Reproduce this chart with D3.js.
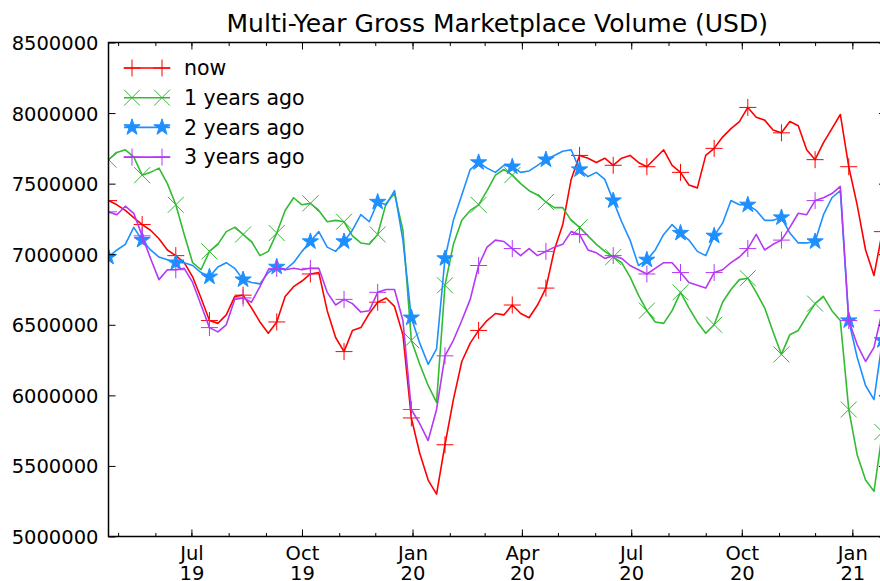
<!DOCTYPE html>
<html>
<head>
<meta charset="utf-8">
<script src="https://cdn.jsdelivr.net/npm/d3@7"></script>
<style>
  body { margin: 0; background: #fff; }
  svg { display: block; font-family: "DejaVu Sans", sans-serif; }
</style>
</head>
<body>
<script>
// weekly samples, first one on 2019-04-23
const startDate = new Date(2019, 3, 23);
const endDate = new Date(2021, 0, 29);
const stepDays = 7;
const markEvery = 4;

const nowVals = [
  7380000, 7350000, 7310000, 7260000, 7210000, 7170000, 7110000, 7030000, 6990000, 6940000,
  6840000, 6690000, 6530000, 6510000, 6570000, 6700000, 6710000, 6620000, 6520000, 6440000,
  6520000, 6700000, 6770000, 6810000, 6860000, 6870000, 6600000, 6410000, 6310000, 6460000,
  6480000, 6580000, 6660000, 6690000, 6630000, 6430000, 5840000, 5590000, 5400000, 5300000,
  5650000, 5970000, 6240000, 6370000, 6460000, 6530000, 6580000, 6570000, 6640000, 6580000,
  6550000, 6640000, 6760000, 7030000, 7210000, 7530000, 7700000, 7680000, 7650000, 7680000,
  7630000, 7680000, 7700000, 7650000, 7620000, 7680000, 7740000, 7630000, 7580000, 7490000,
  7470000, 7700000, 7750000, 7830000, 7890000, 7940000, 8040000, 7970000, 7950000, 7880000,
  7860000, 7940000, 7910000, 7740000, 7670000, 7790000, 7890000, 7990000, 7620000, 7350000,
  7030000, 6850000, 7160000
];
const oneYearVals = [
  7670000, 7720000, 7740000, 7690000, 7560000, 7580000, 7610000, 7500000, 7350000, 7140000,
  6940000, 6890000, 7020000, 7070000, 7160000, 7190000, 7140000, 7090000, 6990000, 7020000,
  7150000, 7310000, 7400000, 7350000, 7360000, 7310000, 7230000, 7240000, 7230000, 7130000,
  7080000, 7070000, 7140000, 7360000, 7430000, 7170000, 6390000, 6220000, 6070000, 5950000,
  6780000, 7070000, 7240000, 7310000, 7350000, 7450000, 7560000, 7600000, 7560000, 7500000,
  7450000, 7420000, 7370000, 7330000, 7330000, 7240000, 7190000, 7130000, 7070000, 7020000,
  6980000, 6940000, 6840000, 6710000, 6600000, 6520000, 6510000, 6600000, 6730000, 6620000,
  6520000, 6440000, 6500000, 6660000, 6750000, 6820000, 6830000, 6730000, 6620000, 6450000,
  6290000, 6430000, 6460000, 6560000, 6650000, 6700000, 6600000, 6530000, 5900000, 5580000,
  5400000, 5320000, 5740000
];
const twoYearVals = [
  6980000, 7030000, 7070000, 7190000, 7100000, 7030000, 6980000, 6960000, 6940000, 6940000,
  6920000, 6870000, 6840000, 6910000, 6940000, 6900000, 6820000, 6800000, 6790000, 6870000,
  6910000, 6890000, 6940000, 7020000, 7090000, 7160000, 7050000, 7020000, 7090000, 7170000,
  7280000, 7230000, 7370000, 7350000, 7450000, 7100000, 6550000, 6370000, 6220000, 6330000,
  6970000, 7240000, 7420000, 7600000, 7650000, 7610000, 7580000, 7630000, 7620000, 7580000,
  7590000, 7630000, 7670000, 7700000, 7730000, 7740000, 7600000, 7550000, 7580000, 7530000,
  7380000, 7230000, 7100000, 6920000, 6960000, 7030000, 7140000, 7210000, 7150000, 7100000,
  7020000, 6990000, 7130000, 7220000, 7380000, 7350000, 7350000, 7310000, 7240000, 7240000,
  7260000, 7150000, 7080000, 7080000, 7090000, 7280000, 7400000, 7450000, 6530000, 6270000,
  6070000, 5970000, 6390000
];
const threeYearVals = [
  7300000, 7280000, 7340000, 7290000, 7130000, 6970000, 6820000, 6890000, 6890000, 6900000,
  6800000, 6640000, 6480000, 6450000, 6500000, 6680000, 6690000, 6660000, 6770000, 6890000,
  6900000, 6890000, 6900000, 6890000, 6900000, 6900000, 6730000, 6640000, 6680000, 6650000,
  6590000, 6600000, 6730000, 6750000, 6750000, 6530000, 5900000, 5800000, 5680000, 5900000,
  6280000, 6390000, 6530000, 6680000, 6920000, 7050000, 7100000, 7090000, 7040000, 6990000,
  7040000, 6990000, 7020000, 7050000, 7070000, 7160000, 7140000, 7030000, 7010000, 6970000,
  6990000, 6970000, 6920000, 6890000, 6860000, 6900000, 6940000, 6940000, 6870000, 6800000,
  6780000, 6760000, 6870000, 6890000, 6940000, 6980000, 7040000, 7140000, 7030000, 7070000,
  7100000, 7190000, 7290000, 7280000, 7380000, 7400000, 7430000, 7480000, 6530000, 6360000,
  6240000, 6340000, 6600000
];

const seriesLabels = ["now", "1 years ago", "2 years ago", "3 years ago"];
const seriesValues = [nowVals, oneYearVals, twoYearVals, threeYearVals];
const seriesColors = ["#ff0000", "#33bb33", "#1e8fff", "#b538f5"];
const seriesMarkers = ["plus", "cross", "star", "plus"];
const yTicks = [5000000, 5500000, 6000000, 6500000, 7000000, 7500000, 8000000, 8500000];

const W = 880, H = 581;
const plotLeft = 108.5, plotRight = 886, plotTop = 42.5, plotBottom = 536.5;

const dates = nowVals.map((_, i) => d3.timeDay.offset(startDate, i * stepDays));

const x = d3.scaleTime().domain([startDate, endDate]).range([plotLeft, plotRight]);
const y = d3.scaleLinear().domain([5000000, 8500000]).range([plotBottom, plotTop]);

const svg = d3.select("body").append("svg")
  .attr("width", W)
  .attr("height", H);

svg.append("defs").append("clipPath")
  .attr("id", "plot-clip")
  .append("rect")
  .attr("x", plotLeft).attr("y", plotTop)
  .attr("width", plotRight - plotLeft).attr("height", plotBottom - plotTop);

function markerPath(type) {
  if (type === "plus") return "M-8.5,0H8.5M0,-8.5V8.5";
  if (type === "cross") return "M-8,-8L8,8M-8,8L8,-8";
  return d3.symbol(d3.symbolStar, 82)();
}

const line = d3.line()
  .x((d, i) => x(dates[i]))
  .y(d => y(d));

const plot = svg.append("g").attr("clip-path", "url(#plot-clip)");

seriesValues.forEach((vals, s) => {
  const g = plot.append("g").attr("class", "series");
  g.append("path")
    .datum(vals)
    .attr("d", line)
    .attr("fill", "none")
    .attr("stroke", seriesColors[s])
    .attr("stroke-width", 1.6)
    .attr("stroke-linejoin", "round");

  g.selectAll(".marker")
    .data(vals.map((v, i) => [dates[i], v]).filter((d, i) => i % markEvery === 0))
    .enter().append("path")
    .attr("class", "marker")
    .attr("transform", d => `translate(${x(d[0])},${y(d[1])})`)
    .attr("d", markerPath(seriesMarkers[s]))
    .attr("fill", seriesMarkers[s] === "star" ? seriesColors[s] : "none")
    .attr("stroke", seriesColors[s])
    .attr("stroke-width", 1);
});

// axes, ticks pointing inward like matplotlib classic
const fmtMon = d3.timeFormat("%b");
const fmtYr = d3.timeFormat("%y");

const gxMinor = svg.append("g")
  .attr("transform", `translate(0,${plotBottom})`)
  .call(d3.axisBottom(x).ticks(d3.timeMonth).tickSize(-3.5).tickSizeOuter(0).tickFormat(""));
const gx = svg.append("g")
  .attr("transform", `translate(0,${plotBottom})`)
  .call(d3.axisBottom(x).ticks(d3.timeMonth.every(3)).tickSize(-7).tickSizeOuter(0));
gx.selectAll(".tick text").each(function(d) {
  const t = d3.select(this).attr("dy", null).attr("y", null).text(null);
  t.append("tspan").attr("x", 0).attr("y", 23).text(fmtMon(d));
  t.append("tspan").attr("x", 0).attr("y", 43).text(fmtYr(d));
});

const gxTopMinor = svg.append("g")
  .attr("transform", `translate(0,${plotTop})`)
  .call(d3.axisTop(x).ticks(d3.timeMonth).tickSize(-3.5).tickSizeOuter(0).tickFormat(""));
const gxTop = svg.append("g")
  .attr("transform", `translate(0,${plotTop})`)
  .call(d3.axisTop(x).ticks(d3.timeMonth.every(3)).tickSize(-7).tickSizeOuter(0).tickFormat(""));

const gy = svg.append("g")
  .attr("transform", `translate(${plotLeft},0)`)
  .call(d3.axisLeft(y).tickValues(yTicks).tickSize(-7).tickSizeOuter(0).tickPadding(10).tickFormat(d3.format("d")));
gy.selectAll(".tick text").attr("dy", "0.36em");

const gyRight = svg.append("g")
  .attr("transform", `translate(${plotRight},0)`)
  .call(d3.axisRight(y).tickValues(yTicks).tickSize(-7).tickSizeOuter(0).tickFormat(""));

[gxMinor, gx, gxTopMinor, gxTop, gy, gyRight].forEach(g => {
  g.select(".domain").remove();
  g.attr("font-family", null).attr("font-size", null);
  g.selectAll(".tick line").attr("stroke", "#000").attr("stroke-width", 1);
  g.selectAll(".tick text")
    .attr("fill", "#000")
    .style("font-family", "'DejaVu Sans', sans-serif")
    .style("font-size", "19.5px");
});

svg.append("rect")
  .attr("x", plotLeft).attr("y", plotTop)
  .attr("width", plotRight - plotLeft).attr("height", plotBottom - plotTop)
  .attr("fill", "none")
  .attr("stroke", "#000")
  .attr("stroke-width", 1.5);

svg.append("text")
  .attr("x", (plotLeft + plotRight) / 2)
  .attr("y", 32)
  .attr("text-anchor", "middle")
  .style("font-size", "25px")
  .attr("fill", "#000")
  .text("Multi-Year Gross Marketplace Volume (USD)");

// legend, no frame
const legend = svg.append("g").attr("class", "legend");
seriesLabels.forEach((label, s) => {
  const ly = 68 + s * 29.7;
  const row = legend.append("g").attr("transform", `translate(0,${ly})`);
  row.append("line")
    .attr("x1", 124).attr("x2", 170)
    .attr("stroke", seriesColors[s])
    .attr("stroke-width", 1.6);
  [132, 162].forEach(mx => {
    row.append("path")
      .attr("transform", `translate(${mx},0)`)
      .attr("d", markerPath(seriesMarkers[s]))
      .attr("fill", seriesMarkers[s] === "star" ? seriesColors[s] : "none")
      .attr("stroke", seriesColors[s])
      .attr("stroke-width", 1);
  });
  row.append("text")
    .attr("x", 184)
    .attr("dy", "0.36em")
    .style("font-size", "20.5px")
    .attr("fill", "#000")
    .text(label);
});
</script>
</body>
</html>
